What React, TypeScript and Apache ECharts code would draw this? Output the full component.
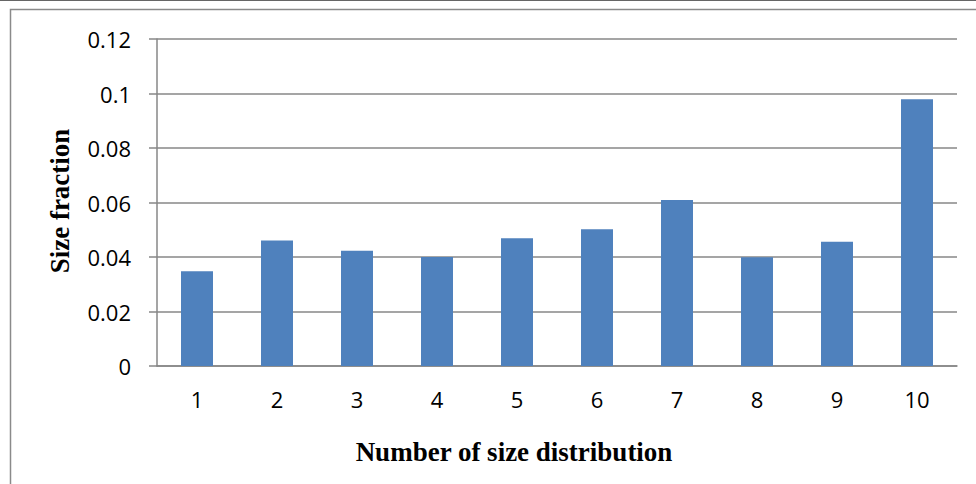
import React, { useEffect, useRef } from "react";
import * as echarts from "echarts";

const categories = ["1", "2", "3", "4", "5", "6", "7", "8", "9", "10"];
const sizeFraction = [0.0348, 0.0461, 0.0423, 0.04, 0.0469, 0.0502, 0.0609, 0.0399, 0.0456, 0.0979];
const yTicks = { min: 0, max: 0.12, interval: 0.02 };
const xTitle = "Number of size distribution";
const yTitle = "Size fraction";

export default function App() {
  const ref = useRef<HTMLDivElement>(null);

  useEffect(() => {
    if (!ref.current) return;
    const chart = echarts.init(ref.current, null, { renderer: "svg" });
    const labelFont = "'Open Sans', 'Noto Sans', sans-serif";
    const titleFont = "'Liberation Serif', 'DejaVu Serif', serif";
    chart.setOption({
      animation: false,
      backgroundColor: "#ffffff",
      graphic: [
        {
          type: "rect",
          z: -1,
          shape: { x: 10.5, y: 9.5, width: 1000, height: 500 },
          style: { fill: "none", stroke: "#8a8a8a", lineWidth: 1.5 },
        },
        {
          type: "line",
          shape: { x1: 0, y1: 0.5, x2: 976, y2: 0.5 },
          style: { stroke: "#666666", lineWidth: 1 },
        },
        {
          type: "text",
          x: 514,
          y: 452,
          style: {
            text: xTitle,
            font: `bold 27px ${titleFont}`,
            fill: "#000000",
            align: "center",
            verticalAlign: "middle",
          },
        },
        {
          type: "text",
          x: 60,
          y: 201,
          rotation: Math.PI / 2,
          style: {
            text: yTitle,
            font: `bold 27px ${titleFont}`,
            fill: "#000000",
            align: "center",
            verticalAlign: "middle",
          },
        },
      ],
      grid: { left: 157, right: 19, top: 39, bottom: 118 },
      xAxis: {
        type: "category",
        data: categories,
        axisLine: { show: true, lineStyle: { color: "#878787", width: 1.5 } },
        axisTick: { show: false },
        axisLabel: {
          color: "#000000",
          fontFamily: labelFont,
          fontSize: 22,
          margin: 22,
        },
      },
      yAxis: {
        type: "value",
        min: yTicks.min,
        max: yTicks.max,
        interval: yTicks.interval,
        axisLine: { show: true, lineStyle: { color: "#878787", width: 1.5 } },
        axisTick: { show: true, length: 8, lineStyle: { color: "#878787", width: 1.5 } },
        splitLine: { show: true, lineStyle: { color: "#878787", width: 1.5 } },
        axisLabel: {
          color: "#000000",
          fontFamily: labelFont,
          fontSize: 22,
          margin: 26,
        },
      },
      series: [
        {
          type: "bar",
          data: sizeFraction,
          barWidth: 32,
          itemStyle: { color: "#4f81bd" },
        },
      ],
    });
    return () => chart.dispose();
  }, []);

  return (
    <div
      ref={ref}
      style={{ position: "fixed", left: 0, top: 0, width: 976, height: 484 }}
    />
  );
}
